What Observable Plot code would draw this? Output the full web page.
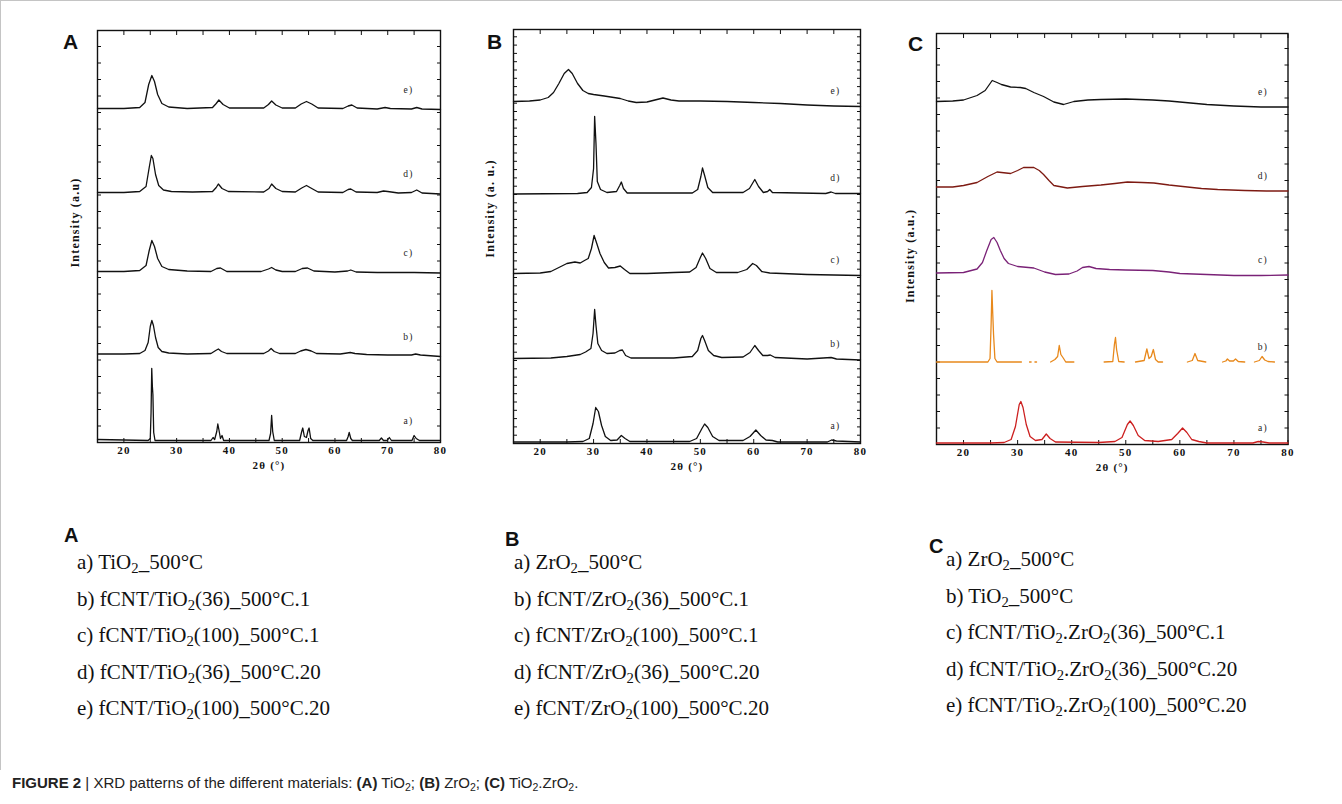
<!DOCTYPE html>
<html>
<head>
<meta charset="utf-8">
<script src="https://cdn.jsdelivr.net/npm/d3@7"></script>
<script src="https://cdn.jsdelivr.net/npm/@observablehq/plot@0.6"></script>
<style>
  body { margin: 0; background: #fff; }
  #fig { position: relative; width: 1342px; height: 804px; overflow: hidden; background: #fff; }
  .frame { position: absolute; left: 0; top: 0; width: 1342px; height: 770px; border-top: 1px solid #c4c4c4; border-left: 1px solid #c4c4c4; box-sizing: border-box; }
  .panel { position: absolute; top: 10px; }
  .letter { position: absolute; font-family: "Liberation Sans", Arial, sans-serif; font-weight: bold; font-size: 21px; color: #111; line-height: 1; }
  .legend { position: absolute; font-family: "Liberation Serif", serif; font-size: 21px; color: #111; }
  .legend div { height: 36.5px; line-height: 36.5px; white-space: nowrap; }
  .legend sub { font-size: 0.7em; vertical-align: -0.3em; line-height: 0; }
  .caption { position: absolute; left: 12px; top: 774px; font-family: "Liberation Sans", Arial, sans-serif; font-size: 15px; color: #222; white-space: nowrap; }
  .caption sub { font-size: 0.7em; vertical-align: -0.25em; line-height: 0; }
</style>
</head>
<body>
<div id="fig"><div class="frame"></div></div>
<script>
// ---------------- DATA (2θ in degrees, intensity in arbitrary units) ----------------
const twoThetaDomain = [15, 80];
const xTickLabels = [20, 30, 40, 50, 60, 70, 80];
const curveIds = ["a", "b", "c", "d", "e"];

// Panel A : TiO2
const A_a = [[15,3],[20,2.5],[24.6,2],[25.0,4],[25.15,30],[25.28,74],[25.4,56],[25.5,48],[25.65,10],[25.9,2],[36.5,2],[36.9,5],[37.2,3],[37.6,11],[37.8,18.5],[38.0,13],[38.3,4],[38.6,7],[38.9,2],[47.5,2],[47.8,9],[48.0,27],[48.2,11],[48.5,2],[53.3,2],[53.7,11],[53.9,14.5],[54.2,6],[54.6,5],[54.9,12],[55.1,14.5],[55.4,4],[55.8,2],[62.2,2],[62.5,6],[62.7,10],[63.0,4],[63.3,2],[68.4,2],[68.8,4.5],[69.2,2],[69.9,2],[70.3,5],[70.7,2],[74.6,2],[75.0,7],[75.4,4],[75.7,3],[76.0,2],[80,2]];
const A_b = [[15,88.5],[20,88.5],[23,89],[24,92],[24.6,100],[25.0,116],[25.3,122],[25.6,117],[26.0,105],[26.5,95],[27.2,91],[28.5,89.5],[32,88.5],[36.5,89],[37.4,92],[37.9,93.5],[38.5,91],[39.5,89],[46.5,89],[47.4,91.5],[47.9,94],[48.5,91],[49.5,89],[52.5,89],[53.5,91.5],[54.5,93],[55.5,91.5],[56.5,89],[61,88.5],[62.3,89.5],[62.9,90],[63.8,89],[66,88],[70,87.5],[74.5,87.5],[75.3,88.5],[76.2,87.5],[80,86]];
const A_c = [[15,171],[20,171],[23,172],[24.2,177],[24.8,192],[25.3,202],[25.8,196],[26.4,184],[27.2,176],[28.5,173],[32,171.5],[36.5,171],[37.6,174],[38.3,174.5],[39.5,171],[46,171],[47.4,173.5],[48,175],[48.8,172.5],[50,171],[52.5,171],[53.8,174],[54.8,174.5],[56,171.5],[60,170.5],[62.4,171.5],[63,172.5],[64,170.5],[68,170],[75,170],[80,169.5]];
const A_d = [[15,250],[20,250],[23,251],[24.2,256],[24.8,275],[25.2,287],[25.5,284],[26.0,268],[26.6,257],[27.5,252.5],[29,251],[33,250.5],[36.8,251],[37.5,255],[37.9,258.5],[38.6,254],[39.8,251],[46.5,250.5],[47.5,254],[48,258.5],[48.8,254],[50,251],[52.5,250.5],[53.7,254.5],[54.6,257],[55.6,254],[56.8,250.5],[61.5,250],[62.5,253],[63,253.5],[64,250.5],[68,250],[69.2,251.5],[70,251],[72,249.5],[74.5,250],[75.5,252.5],[76.5,249.5],[80,248.5]];
const A_e = [[15,334],[20,334],[23,335],[24.0,340],[24.7,358],[25.3,367],[25.8,361],[26.4,348],[27.2,339],[28.5,335.5],[32,334],[36.8,335],[37.5,339],[38,342.5],[38.8,338],[40,334.5],[46.5,334.5],[47.4,338],[48,341.5],[48.8,337.5],[50,334.5],[52.5,334.5],[53.6,338.5],[54.6,341],[55.6,338.5],[56.8,334.5],[61.5,334],[62.5,336.5],[63.2,337.5],[64.2,334.5],[68,333.5],[69.5,335],[70.5,334],[74.5,333.5],[75.5,335],[76.5,333.5],[80,333]];

// Panel B : ZrO2
const B_a = [[15,1.5],[25,1.5],[28,2],[29.2,5],[29.9,20],[30.4,36],[30.9,32],[31.5,18],[32.2,7],[33.2,3],[34.4,3.5],[35.2,8],[35.9,5],[36.8,2],[48,2],[49.3,5],[50.3,15],[50.8,19.5],[51.4,16],[52.3,7],[53.5,3],[58,3],[59.3,7],[60.4,13.5],[61.3,8],[62.3,3.5],[63.5,3],[64.5,1.5],[73.8,1.5],[74.6,3.5],[75.5,2.5],[80,1.5]];
const B_b = [[15,85],[22,85.5],[25,87],[27.5,89],[28.5,91.5],[29.5,95],[29.9,110],[30.2,134],[30.45,118],[30.8,100],[31.5,93],[32.5,90],[34,90.5],[34.9,93],[35.4,93.5],[36,88],[37,85.5],[45,85.5],[48.5,87],[49.5,93],[50.1,105],[50.4,108],[50.8,103],[51.5,93],[52.5,88],[54,86],[58,86.5],[59.3,91],[60.2,98],[60.9,93],[61.7,88],[62.6,88],[63.1,88.5],[64,86],[70,84.5],[74.5,86],[75.5,84.5],[80,83.5]];
const B_c = [[15,170],[20,170.5],[22,172],[23.5,176],[25,180],[26.5,181.5],[27.5,180.5],[28.3,183],[29,185],[29.6,195],[30.1,208],[30.6,200],[31.2,190],[32,181],[32.8,175.5],[34,176],[35,177.5],[35.8,174],[36.8,170],[40,170],[45,171],[48,171.5],[49.2,176],[50.0,186],[50.4,190.5],[51,185],[51.8,175],[53,171],[57,171],[58.7,174],[59.8,180],[60.5,178],[61.5,172],[63,170.5],[70,169],[80,168]];
const B_d = [[15,249.5],[27,250],[28.8,251],[29.6,256],[30.0,275],[30.2,327],[30.45,300],[30.7,262],[31.3,254],[32.5,251],[34.3,252],[34.9,258],[35.2,261.5],[35.6,255],[36.3,250.5],[48.5,250.5],[49.5,254],[50.1,267],[50.4,275.5],[50.8,268],[51.4,256],[52.3,251],[58,251],[59.2,255],[60.2,264],[60.9,257],[61.8,251],[62.6,252],[63.0,254],[63.5,251],[73.5,250],[74.5,251.5],[75.3,250],[80,250]];
const B_e = [[15,342],[18,342.5],[20,343.5],[21.5,346],[22.5,351],[23.5,360],[24.5,370],[25.3,374],[26,370],[27,360],[28,353],[29,350],[30,349],[32,347.5],[35,345],[36.5,342.5],[38,341],[40,341.5],[41.5,343.5],[43,345.5],[44.5,343.5],[46,342.5],[50,342.5],[55,342],[60,341],[65,340],[70,338.5],[75,337.5],[80,337]];

// Panel C : TiO2.ZrO2  (null = gap in the recorded pattern)
const C_a = [[15,1.5],[25,1.5],[27.5,2],[28.8,5],[29.6,18],[30.3,40],[30.6,43],[31,37],[31.6,20],[32.3,8],[33.3,4],[34.5,5],[35.3,10.5],[36,6],[37,2.5],[45,2],[48,3],[49.3,7],[50.3,20],[50.8,23.5],[51.4,19],[52.3,9],[53.5,4],[56,3],[58.5,5],[59.6,11],[60.5,16.5],[61.3,12],[62.2,5],[63.5,3],[65,1.5],[73.5,1.5],[74.5,3],[75.4,2.5],[76.5,1.5],[80,1.5]];
const C_b = [[15,82.5],[20,82.5],[24.5,82.5],[24.9,86],[25.1,120],[25.25,154],[25.4,131],[25.55,110],[25.8,86],[26.2,82.5],[30.7,82.5],[31,null],[32.2,82.5],[32.5,82.5],[32.7,null],[33.2,82.5],[33.5,82.5],[33.7,null],[36.1,82.5],[36.9,85],[37.4,88],[37.7,99],[38.0,90],[38.5,86],[38.9,82.5],[40.4,82.5],[40.6,null],[46,82.5],[47.6,83],[47.9,100],[48.1,107],[48.3,95],[48.7,83],[49.7,82.5],[49.9,null],[51.8,82.5],[53.4,84],[53.9,95.5],[54.3,86],[54.7,88],[55.1,95],[55.5,85],[56,82.5],[56.8,82.5],[57,null],[61.4,82.5],[62.3,84],[62.8,91],[63.3,84],[64.8,82.5],[65,null],[67.9,82.5],[68.5,83.5],[68.8,85.5],[69.2,83.5],[69.9,83.5],[70.3,85.5],[70.8,83],[72,82.5],[72.2,null],[73.8,82.5],[74.7,84],[75.2,88],[75.7,84.5],[76.3,83],[77.5,82.5]];
const C_c = [[15,171.5],[20,172],[22.5,175.5],[23.5,182],[24.3,194],[25.1,205],[25.6,207],[26.2,202],[26.8,194],[27.5,186],[28.3,181],[30,178],[33,176.5],[35,172.5],[37,170],[39.5,170.5],[41,173.5],[42,177],[43.2,178],[44.5,176],[47,175],[50,174.5],[55,174],[58,172.5],[60,171],[65,170],[70,169],[75,169],[80,169.5]];
const C_d = [[15,257.5],[18,257.5],[20,259],[22.5,262],[24.5,268],[26.2,272.5],[28.7,271],[30,274],[31.1,277],[33,277],[34,274],[34.8,270],[35.8,264],[36.7,259],[39.2,256.5],[42,258],[45.4,259.5],[48,261],[50.3,262.5],[53,262],[55.2,261.5],[58,259.5],[61.4,257.5],[64,256],[67,255],[72,254],[76,253.5],[80,253.5]];
const C_e = [[15,343],[18,343.5],[20,344.5],[22.5,349],[24,354],[25.3,364],[26.2,362],[27,360],[28.7,357.5],[30.5,357],[31.5,356],[33,352],[34.8,348],[36.7,342.5],[38.5,340],[40.4,343],[43,344.5],[45.4,345],[50,345.5],[55,344.5],[58,343.5],[60,342.5],[65,340],[70,338.5],[75,337.5],[80,337.5]];

const yLabels = ["Intensity (a.u)", "Intensity (a. u.)", "Intensity (a.u.)"];
const xLabel = "2θ (°)";
const panelLetters = ["A", "B", "C"];

const legendA = ["a) TiO2_500°C", "b) fCNT/TiO2(36)_500°C.1", "c) fCNT/TiO2(100)_500°C.1", "d) fCNT/TiO2(36)_500°C.20", "e) fCNT/TiO2(100)_500°C.20"];
const legendB = ["a) ZrO2_500°C", "b) fCNT/ZrO2(36)_500°C.1", "c) fCNT/ZrO2(100)_500°C.1", "d) fCNT/ZrO2(36)_500°C.20", "e) fCNT/ZrO2(100)_500°C.20"];
const legendC = ["a) ZrO2_500°C", "b) TiO2_500°C", "c) fCNT/TiO2.ZrO2(36)_500°C.1", "d) fCNT/TiO2.ZrO2(36)_500°C.20", "e) fCNT/TiO2.ZrO2(100)_500°C.20"];

// ---------------- STYLE / LAYOUT ----------------
const serif = "'Liberation Serif', 'Times New Roman', serif";
const panels = [
  { letter: panelLetters[0], curves: [A_a, A_b, A_c, A_d, A_e], colors: ["#111","#111","#111","#111","#111"],
    left: 40, width: 420, height: 470, ml: 57, mr: 20, mt: 20, mb: 38, yTickStep: 16.5,
    ylabel: yLabels[0], ylDx: -22, ylDy: -14, labDx: -32, labDy: -20, letterLeft: 63, letterTop: 31 },
  { letter: panelLetters[1], curves: [B_a, B_b, B_c, B_d, B_e], colors: ["#111","#111","#111","#111","#111"],
    left: 460, width: 420, height: 470, ml: 53, mr: 20, mt: 19, mb: 37, yTickStep: 8.3,
    ylabel: yLabels[1], ylDx: -23, ylDy: -28, labDx: -25, labDy: -16, letterLeft: 487, letterTop: 31 },
  { letter: panelLetters[2], curves: [C_a, C_b, C_c, C_d, C_e], colors: ["#cc1f1f","#e8891c","#7a2277","#7d1a12","#111"],
    left: 880, width: 420, height: 470, ml: 56, mr: 12.5, mt: 23, mb: 36, yTickStep: 16.5,
    ylabel: yLabels[2], ylDx: -26, ylDy: 17, labDx: -25, labDy: -15, letterLeft: 908, letterTop: 33 }
];

const fig = document.getElementById("fig");
const xMinor = d3.range(twoThetaDomain[0], twoThetaDomain[1] + 0.01, 5);
const blank = () => "";

for (const p of panels) {
  const innerH = p.height - p.mt - p.mb;
  const yTicks = d3.range(0, innerH + 0.01, p.yTickStep);
  const labelData = p.curves.map((pts, i) => {
    const last = pts.filter(d => d[1] != null).at(-1);
    return { t: curveIds[i] + ")", x: twoThetaDomain[1], y: last[1] };
  });
  const marks = [
    Plot.axisX({ anchor: "bottom", ticks: xTickLabels, tickSize: 0, tickPadding: 4, label: null, fontWeight: "bold", fontSize: 11 }),
    Plot.axisX({ anchor: "bottom", ticks: xMinor, tickSize: -4, tickFormat: blank, label: null }),
    Plot.axisX({ anchor: "top", ticks: xMinor, tickSize: -4, tickFormat: blank, label: null }),
    Plot.axisY({ anchor: "left", ticks: yTicks, tickSize: -4, tickFormat: blank, label: null }),
    Plot.axisY({ anchor: "right", ticks: yTicks, tickSize: -4, tickFormat: blank, label: null }),
    Plot.frame({ stroke: "#111", strokeWidth: 1.4 }),
    ...p.curves.map((pts, i) => Plot.line(pts, { x: d => d[0], y: d => d[1], stroke: p.colors[i], strokeWidth: 1.3 })),
    Plot.text(labelData, { x: "x", y: "y", text: "t", dx: p.labDx, dy: p.labDy, fontSize: 9.5, fill: "#222" }),
    Plot.text([p.ylabel], { frameAnchor: "left", textAnchor: "middle", lineAnchor: "middle", rotate: -90, dx: p.ylDx, dy: p.ylDy, fontSize: 12, fontWeight: "bold", fill: "#111" }),
    Plot.text([xLabel], { frameAnchor: "bottom", textAnchor: "middle", lineAnchor: "middle", dy: 23, fontSize: 11, fontWeight: "bold", fill: "#111" })
  ];
  const chart = Plot.plot({
    width: p.width, height: p.height,
    marginLeft: p.ml, marginRight: p.mr, marginTop: p.mt, marginBottom: p.mb,
    x: { domain: twoThetaDomain },
    y: { domain: [0, innerH] },
    style: { fontFamily: serif, fontSize: "11px", letterSpacing: "1.2px", color: "#111", background: "transparent", overflow: "visible" },
    marks
  });
  const wrap = document.createElement("div");
  wrap.className = "panel";
  wrap.style.left = p.left + "px";
  wrap.appendChild(chart);
  fig.appendChild(wrap);

  const L = document.createElement("div");
  L.className = "letter";
  L.style.left = p.letterLeft + "px";
  L.style.top = p.letterTop + "px";
  L.textContent = p.letter;
  fig.appendChild(L);
}

// legends below the plots
const legends = [
  { head: panelLetters[0], items: legendA, headLeft: 64, headTop: 525, left: 77, top: 544 },
  { head: panelLetters[1], items: legendB, headLeft: 505, headTop: 529, left: 514, top: 544 },
  { head: panelLetters[2], items: legendC, headLeft: 929, headTop: 536, left: 946, top: 541 }
];
const sub2 = s => s.replace(/O2/g, "O<sub>2</sub>");
for (const lg of legends) {
  const h = document.createElement("div");
  h.className = "letter";
  h.style.left = lg.headLeft + "px";
  h.style.top = lg.headTop + "px";
  h.style.fontSize = "20px";
  h.textContent = lg.head;
  fig.appendChild(h);
  const box = document.createElement("div");
  box.className = "legend";
  box.style.left = lg.left + "px";
  box.style.top = lg.top + "px";
  box.innerHTML = lg.items.map(t => `<div>${sub2(t)}</div>`).join("");
  fig.appendChild(box);
}

const cap = document.createElement("div");
cap.className = "caption";
cap.innerHTML = "<b>FIGURE 2</b> | XRD patterns of the different materials: <b>(A)</b> TiO<sub>2</sub>; <b>(B)</b> ZrO<sub>2</sub>; <b>(C)</b> TiO<sub>2</sub>.ZrO<sub>2</sub>.";
fig.appendChild(cap);
</script>
</body>
</html>
